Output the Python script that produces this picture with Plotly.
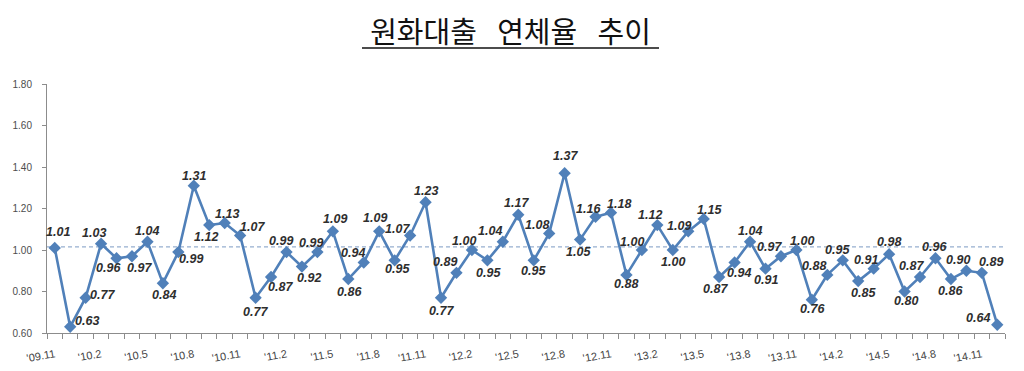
import plotly.graph_objects as go

# ---- data ----
values = [1.01, 0.63, 0.77, 1.03, 0.96, 0.97, 1.04, 0.84, 0.99, 1.31,
          1.12, 1.13, 1.07, 0.77, 0.87, 0.99, 0.92, 0.99, 1.09, 0.86,
          0.94, 1.09, 0.95, 1.07, 1.23, 0.77, 0.89, 1.00, 0.95, 1.04,
          1.17, 0.95, 1.08, 1.37, 1.05, 1.16, 1.18, 0.88, 1.00, 1.12,
          1.00, 1.09, 1.15, 0.87, 0.94, 1.04, 0.91, 0.97, 1.00, 0.76,
          0.88, 0.95, 0.85, 0.91, 0.98, 0.80, 0.87, 0.96, 0.86, 0.90,
          0.89, 0.64]
tick_labels = ["'09.11", "'10.2", "'10.5", "'10.8", "'10.11", "'11.2", "'11.5",
               "'11.8", "'11.11", "'12.2", "'12.5", "'12.8", "'12.11", "'13.2",
               "'13.5", "'13.8", "'13.11", "'14.2", "'14.5", "'14.8", "'14.11"]
tick_step = 3
ref_line = 1.015
title = "원화대출\u2002\u2009연체율\u2002\u2009추이"

# ---- style: pixel offsets (dx, dy; dy positive = down) of each data label ----
label_offsets = [(3, -16), (17, -6), (17, -3), (-7, -11), (-8, 10), (8, 12), (0, -11), (1, 12), (13, 7), (0, -10),
                 (-3, 12), (2, -9), (12, -8), (0, 14), (9, 10), (-6, -11), (7, 11), (-6, -9), (2, -12), (1, 13),
                 (-11, -9), (-4, -13), (3, 9), (-13, -6), (0, -11), (0, 13), (-11, -11), (-8, -9), (1, 13), (-13, -11),
                 (-2, -12), (0, 11), (-12, -8), (1, -17), (-2, 12), (-7, -8), (8, -9), (0, 9), (-10, -8), (-7, -10),
                 (0, 12), (-9, -5), (6, -9), (-4, 12), (4, 11), (0, -11), (0, 11), (-11, -9), (6, -9), (1, 9),
                 (-13, -9), (-5, -10), (5, 12), (-8, -9), (0, -12), (1, 9), (-9, -11), (-1, -11), (0, 12), (-8, -11),
                 (9, -11), (-19, -7)]

LINE_COLOR = "#5080b9"
LABEL_FONT = dict(family="Liberation Sans, Arial", size=12.5, color="#2e2e2e")
YAXIS_FONT = dict(family="Liberation Sans, Arial", size=10, color="#4d4d4d")
XAXIS_FONT = dict(family="Liberation Sans, Arial", size=11, color="#444444")
AXIS_COLOR = "#8c8c8c"

# page body has an 8px margin: figure is placed at (8, 8)
W, H = 1016, 363
L, R, T, B = 39, 19, 76, 38
plot_w = W - L - R
plot_h = H - T - B

x = list(range(len(values)))

fig = go.Figure()
fig.add_trace(go.Scatter(
    x=x, y=values, mode="lines+markers",
    line=dict(color=LINE_COLOR, width=2.6),
    marker=dict(symbol="diamond", size=9.5, color=LINE_COLOR),
    cliponaxis=False, showlegend=False, hoverinfo="x+y",
))

for xi, v, (dx, dy) in zip(x, values, label_offsets):
    fig.add_annotation(x=xi, y=v, text=f"<b><i>{v:.2f}</i></b>", showarrow=False,
                       xshift=dx, yshift=-dy, font=LABEL_FONT)

fig.add_shape(type="line", xref="paper", x0=0, x1=1, yref="y", y0=ref_line, y1=ref_line,
              line=dict(color="#96afd0", width=1.3, dash="4px,3px"), layer="below")

# title underline
fig.add_shape(type="line", xref="paper", yref="paper",
              x0=(354 - L) / plot_w, x1=(651 - L) / plot_w,
              y0=1 + 36 / plot_h, y1=1 + 36 / plot_h,
              line=dict(color="#111111", width=1.5))

fig.update_layout(
    width=W, height=H,
    margin=dict(l=L, r=R, t=T, b=B),
    paper_bgcolor="white", plot_bgcolor="white",
    title=dict(text=title, x=502.5 / W, xanchor="center", y=1 - 25 / H, yanchor="middle",
               font=dict(family="Noto Sans CJK KR", size=29, color="#111111")),
    xaxis=dict(range=[-0.5, len(values) - 0.5], showgrid=False, zeroline=False,
               showline=True, linecolor=AXIS_COLOR, linewidth=1,
               tickvals=x[::tick_step], ticktext=tick_labels, ticks="",
               tickangle=-10, ticklabelstandoff=10, automargin=False,
               tickfont=XAXIS_FONT,
               minor=dict(ticks="outside", ticklen=5, tick0=-0.5, dtick=1, tickcolor=AXIS_COLOR,
                          showgrid=False)),
    yaxis=dict(range=[0.6, 1.8], dtick=0.2, tickformat=".2f", showgrid=False, zeroline=False,
               showline=True, linecolor=AXIS_COLOR, linewidth=1,
               ticks="outside", ticklen=4, tickcolor=AXIS_COLOR, ticklabelstandoff=8,
               automargin=False, tickfont=YAXIS_FONT),
)

fig.write_html("out.html")
